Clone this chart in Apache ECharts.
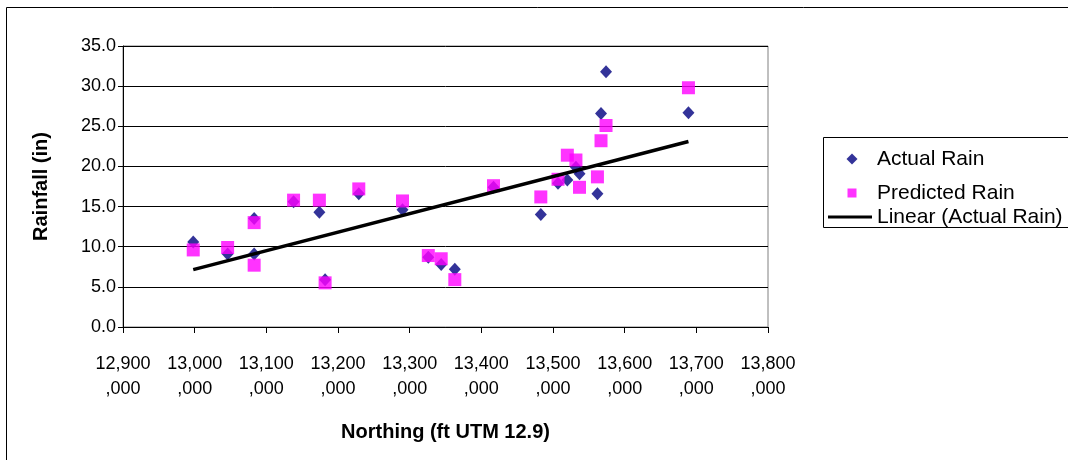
<!DOCTYPE html>
<html>
<head>
<meta charset="utf-8">
<title>Rainfall vs Northing</title>
<script src="https://cdn.jsdelivr.net/npm/echarts@6/dist/echarts.min.js"></script>
<style>
  html, body { margin: 0; padding: 0; background: #ffffff; }
  #chart { width: 1068px; height: 460px; }
</style>
</head>
<body>
<div id="chart"></div>
<script>
// Station northing (ft, UTM zone 12) with measured and modelled rainfall (in)
const northing = [
  12998000, 13046000, 13083000, 13083000, 13138000, 13174000, 13182000,
  13229000, 13290000, 13326000, 13344000, 13363000, 13417000, 13483000,
  13507000, 13520000, 13532000, 13537000, 13562000, 13567000, 13574000,
  13689000
];
const actualRain = [
  10.6, 9.1, 13.5, 9.1, 15.6, 14.3, 5.9,
  16.6, 14.6, 8.7, 7.8, 7.2, 17.4, 14.0,
  17.9, 18.3, 19.9, 19.1, 16.6, 26.6, 31.8,
  26.7
];
const predictedRain = [
  9.6, 9.9, 13.0, 7.7, 15.8, 15.8, 5.5,
  17.2, 15.7, 8.9, 8.5, 5.9, 17.6, 16.2,
  18.4, 21.4, 20.8, 17.4, 18.7, 23.2, 25.1,
  29.8
];
// Linear trendline of the actual rainfall, end points
const trendNorthing = [12998000, 13689000];
const trendRain = [7.15, 23.1];

const FONT = '"Liberation Sans", Arial, sans-serif';

const pairs = (xs, ys) => xs.map((x, i) => [x, ys[i]]);

function northingLabel(v) {
  const s = Math.round(v).toLocaleString('en-US');
  return s.slice(0, 6) + '\n' + s.slice(6);
}

// Legend icons share a 44x11 box so every key lines up with the same text column
const ICON_DIAMOND = 'path://M0,0M44,11M18.5,5.5L24,0L29.5,5.5L24,11Z';
const ICON_SQUARE = 'path://M0,0M44,11M19.5,1H28.5V10H19.5Z';
const ICON_LINE = 'path://M0,4H44V7H0Z M0,0M44,11';

const legendText = { fontFamily: FONT, fontSize: 21, color: '#000', lineHeight: 17 };

const chart = echarts.init(document.getElementById('chart'), null, { renderer: 'canvas' });

chart.setOption({
  backgroundColor: '#ffffff',
  animation: false,
  textStyle: { fontFamily: FONT, color: '#000000' },
  grid: {
    left: 123, top: 46, right: 300, bottom: 133,
    show: true, borderColor: '#808080', borderWidth: 1,
    backgroundColor: '#ffffff'
  },
  xAxis: {
    type: 'value',
    min: 12900000, max: 13800000, interval: 100000,
    name: 'Northing (ft UTM 12.9)',
    nameLocation: 'middle',
    nameGap: 95,
    nameTextStyle: { fontFamily: FONT, fontSize: 20, fontWeight: 'bold', color: '#000' },
    axisLine: { show: true, onZero: false, lineStyle: { color: '#000', width: 1 } },
    axisTick: { show: true, length: 6, lineStyle: { color: '#000', width: 1 } },
    axisLabel: {
      formatter: northingLabel,
      fontFamily: FONT, fontSize: 18, color: '#000',
      lineHeight: 25, margin: 25, align: 'center'
    },
    splitLine: { show: false }
  },
  yAxis: {
    type: 'value',
    min: 0, max: 35, interval: 5,
    name: 'Rainfall (in)',
    nameLocation: 'middle',
    nameGap: 72,
    nameTextStyle: { fontFamily: FONT, fontSize: 20, fontWeight: 'bold', color: '#000' },
    axisLine: { show: true, onZero: false, lineStyle: { color: '#000', width: 1 } },
    axisTick: { show: true, length: 5, lineStyle: { color: '#000', width: 1 } },
    axisLabel: {
      formatter: v => v.toFixed(1),
      fontFamily: FONT, fontSize: 18, color: '#000', margin: 7
    },
    splitLine: { show: true, lineStyle: { color: '#000', width: 1 } }
  },
  legend: [
    {
      orient: 'vertical',
      left: 828, top: 148.5, padding: 0,
      itemWidth: 44, itemHeight: 11, itemGap: 13,
      symbolKeepAspect: false,
      textStyle: legendText,
      data: [
        { name: 'Actual Rain', icon: ICON_DIAMOND },
        { name: 'Predicted Rain', icon: ICON_SQUARE }
      ]
    },
    {
      orient: 'vertical',
      left: 828, top: 206.5, padding: 0,
      itemWidth: 44, itemHeight: 11,
      symbolKeepAspect: false,
      textStyle: legendText,
      data: [
        { name: 'Linear (Actual Rain)', icon: ICON_LINE }
      ]
    }
  ],
  graphic: [
    {
      type: 'rect',
      shape: { x: 6.5, y: 7.5, width: 1100, height: 480 },
      style: { fill: 'none', stroke: '#000', lineWidth: 1 },
      z: -10, silent: true
    },
    {
      type: 'rect',
      shape: { x: 823.5, y: 137.5, width: 300, height: 90 },
      style: { fill: '#fff', stroke: '#000', lineWidth: 1 },
      z: -1, silent: true
    }
  ],
  series: [
    {
      name: 'Actual Rain',
      type: 'scatter',
      data: pairs(northing, actualRain),
      symbol: 'diamond',
      symbolSize: [12, 13],
      itemStyle: { color: '#000080' },
      z: 2
    },
    {
      name: 'Predicted Rain',
      type: 'scatter',
      data: pairs(northing, predictedRain),
      symbol: 'rect',
      symbolSize: 13,
      itemStyle: { color: '#ff00ff' },
      z: 3
    },
    {
      name: 'Linear (Actual Rain)',
      type: 'line',
      data: pairs(trendNorthing, trendRain),
      showSymbol: false,
      symbol: 'none',
      lineStyle: { color: '#000', width: 3.5 },
      itemStyle: { color: '#000' },
      z: 4
    }
  ]
});
</script>
</body>
</html>
